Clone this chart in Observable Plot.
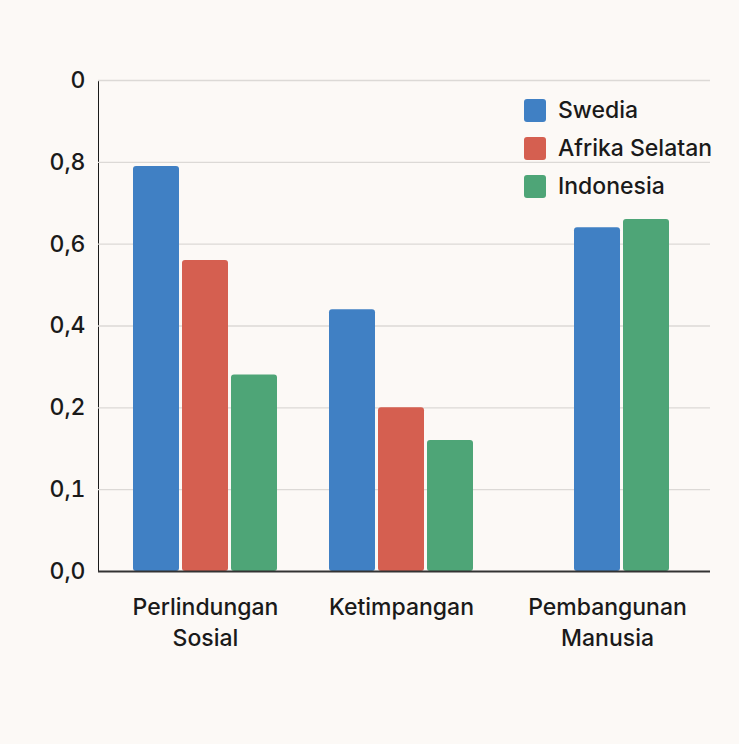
<!DOCTYPE html>
<html><head><meta charset="utf-8">
<script src="https://cdn.jsdelivr.net/npm/d3@7"></script>
<script src="https://cdn.jsdelivr.net/npm/@observablehq/plot@0.6"></script>
<style>
html,body{margin:0;padding:0;background:#fcf9f6;}
#wrap{position:relative;width:739px;height:744px;background:#fcf9f6;font-family:Inter,"Noto Sans",sans-serif;color:#1a1a1a;}
#legend{position:absolute;left:524px;top:91px;font-size:23px;font-weight:500;}
.item{display:flex;align-items:center;height:38px;}
.sw{width:22px;height:23px;border-radius:3px;margin-right:12px;}
#chart svg text{font-size:23px !important;font-weight:500;fill:#1a1a1a;}
</style>
</head><body>
<div id="wrap"><div id="chart"></div><div id="legend"></div></div>
<script>
const categories = ["Perlindungan Sosial", "Ketimpangan", "Pembangunan Manusia"];
const categoryLabels = ["Perlindungan\nSosial", "Ketimpangan", "Pembangunan\nManusia"];
const series = ["Swedia", "Afrika Selatan", "Indonesia"];
const seriesColors = ["#4080c4", "#d55f50", "#4ea577"];
const swedia = [0.79, 0.44, 0.64];
const afrikaSelatan = [0.56, 0.20, null];
const indonesia = [0.28, 0.16, 0.66];
const tickValues = [0, 0.1, 0.2, 0.4, 0.6, 0.8, 1.0];
const tickLabels = ["0,0", "0,1", "0,2", "0,4", "0,6", "0,8", "0"];

// The reference axis spaces its (uneven) tick values evenly: piecewise mapping.
const pos = d3.scaleLinear().domain(tickValues).range(d3.range(tickValues.length));
const values = [swedia, afrikaSelatan, indonesia];
const spacersAfter = [1, 2];

const rows = [];
const domain = [];
const labelRows = [];
categories.forEach((c, ci) => {
  const keys = [];
  series.forEach((s, si) => {
    const v = values[si][ci];
    if (v == null) return;
    const key = c + "|" + s;
    keys.push(key);
    domain.push(key);
    rows.push({key, series: s, v: pos(v)});
  });
  labelRows.push({key: keys[Math.floor((keys.length - 1) / 2)], label: categoryLabels[ci], even: keys.length % 2 === 0});
  if (ci < categories.length - 1) for (let k = 0; k < spacersAfter[ci]; k++) domain.push("_" + ci + "_" + k);
});

const chart = Plot.plot({
  width: 739,
  height: 744,
  marginLeft: 98,
  marginRight: 29,
  marginTop: 80,
  marginBottom: 173,
  style: {background: "transparent", fontFamily: "Inter, 'Noto Sans', sans-serif", fontSize: "23px", color: "#1a1a1a"},
  x: {type: "band", domain, paddingInner: 0.07, paddingOuter: 0.73, align: 0.46, axis: null},
  y: {domain: [0, tickValues.length - 1], ticks: d3.range(tickValues.length), tickFormat: d => tickLabels[d], tickSize: 0, tickPadding: 13, line: true, label: null},
  color: {domain: series, range: seriesColors},
  marks: [
    Plot.ruleY(d3.range(1, tickValues.length), {stroke: "#dcd9d6", strokeWidth: 1.3}),
    Plot.barY(rows, {x: "key", y: "v", fill: "series", rx: 3}),
    Plot.ruleY([0], {stroke: "#333", strokeWidth: 2}),
    Plot.text(labelRows.filter(d => !d.even), {x: "key", y: 0, text: "label", lineAnchor: "top", dy: 21, lineHeight: 1.35, fontSize: 23}),
    Plot.text(labelRows.filter(d => d.even), {x: "key", y: 0, text: "label", lineAnchor: "top", dy: 21, dx: 10, lineHeight: 1.35, fontSize: 23})
  ]
});
document.getElementById("chart").appendChild(chart);

const legend = document.getElementById("legend");
series.forEach((s, i) => {
  const item = document.createElement("div");
  item.className = "item";
  const sw = document.createElement("div");
  sw.className = "sw";
  sw.style.background = seriesColors[i];
  const t = document.createElement("span");
  t.textContent = s;
  item.appendChild(sw);
  item.appendChild(t);
  legend.appendChild(item);
});
</script>
</body></html>
